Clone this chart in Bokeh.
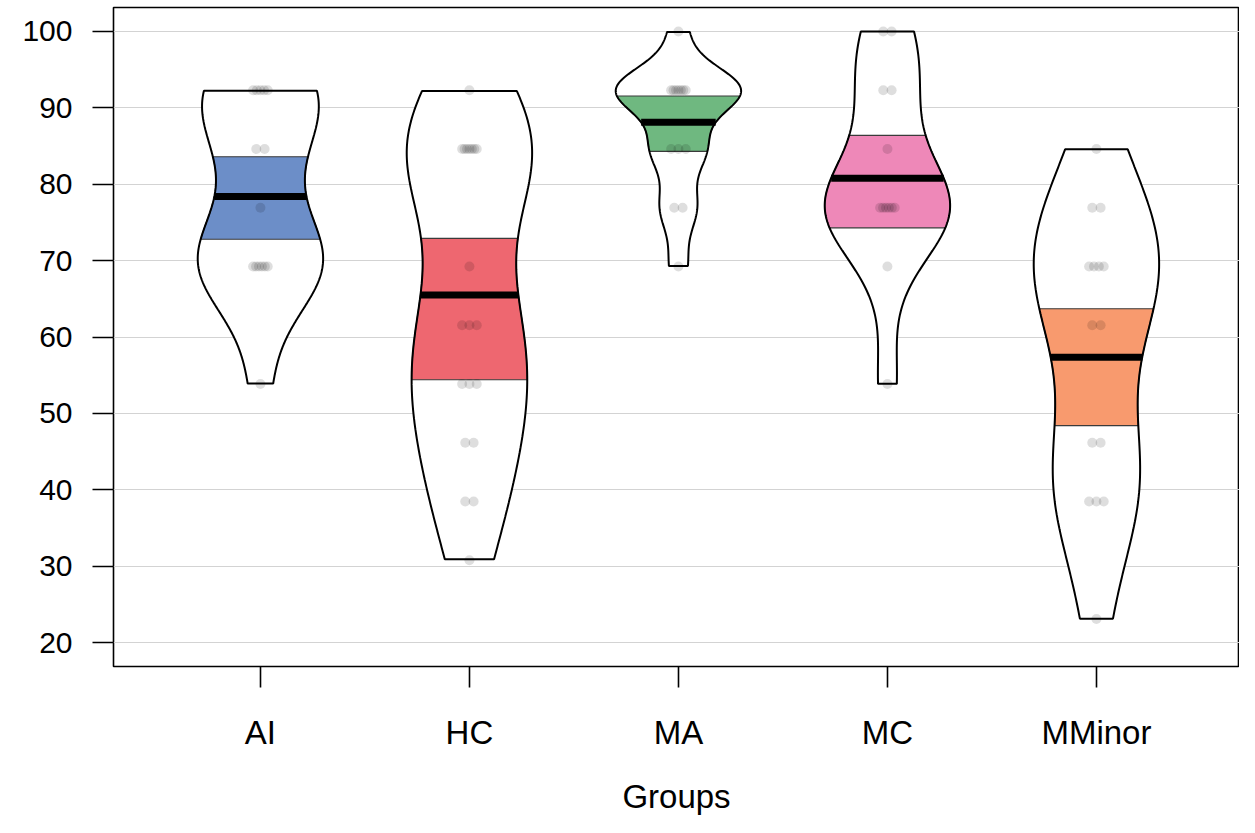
import numpy as np
from bokeh.plotting import figure
from bokeh.models import FixedTicker, Range1d
from bokeh.embed import file_html
from bokeh.resources import INLINE

# ---------------- data ----------------
groups = ["AI", "HC", "MA", "MC", "MMinor"]

ai_scores = [92.31, 92.31, 92.31, 92.31, 92.31, 84.62, 84.62, 76.92,
             69.23, 69.23, 69.23, 69.23, 69.23, 69.23, 53.85]
hc_scores = [92.31, 84.62, 84.62, 84.62, 84.62, 84.62, 84.62, 84.62,
             69.23, 61.54, 61.54, 61.54, 53.85, 53.85, 53.85,
             46.15, 46.15, 38.46, 38.46, 30.77]
ma_scores = [100.0, 92.31, 92.31, 92.31, 92.31, 92.31, 92.31, 92.31,
             84.62, 84.62, 84.62, 76.92, 76.92, 69.23]
mc_scores = [100.0, 100.0, 92.31, 92.31, 84.62,
             76.92, 76.92, 76.92, 76.92, 76.92, 76.92, 69.23, 53.85]
mminor_scores = [84.62, 76.92, 76.92, 69.23, 69.23, 69.23, 69.23,
                 61.54, 61.54, 46.15, 46.15, 38.46, 38.46, 38.46, 23.08]

group_means = [78.4, 65.5, 88.1, 80.8, 57.35]
hdi_lower = [72.8, 54.4, 84.3, 74.3, 48.4]
hdi_upper = [83.6, 72.9, 91.55, 86.4, 63.7]
band_colors = ["#6C8EC8", "#EE6770", "#6FB880", "#EE88B8", "#F89A6E"]

y_ticks = [20, 30, 40, 50, 60, 70, 80, 90, 100]

all_scores = [ai_scores, hc_scores, ma_scores, mc_scores, mminor_scores]

FONT = "Liberation Sans"
BEAN_HALF_WIDTH = 0.3


def bean_density(values):
    x = np.asarray(values, dtype=float)
    n = len(x)
    q75, q25 = np.percentile(x, [75, 25])
    lo = min(np.std(x, ddof=1), (q75 - q25) / 1.34)
    if lo <= 0:
        lo = np.std(x, ddof=1)
    bw = 0.9 * lo * n ** (-0.2)
    grid = np.linspace(x.min() - 3 * bw, x.max() + 3 * bw, 512)
    d = np.exp(-0.5 * ((grid[:, None] - x[None, :]) / bw) ** 2).sum(axis=1)
    d = d / d.max() * BEAN_HALF_WIDTH
    keep = (grid >= x.min()) & (grid <= x.max())
    return grid[keep], d[keep]


p = figure(width=1239, height=817, output_backend="svg", toolbar_location=None,
           x_range=Range1d(0.297, 0.297 + 1126 / 209.0),
           y_range=Range1d(16.86, 103.14),
           min_border_left=113, min_border_right=0, min_border_top=7,
           min_border_bottom=150)

p.background_fill_color = "white"
p.border_fill_color = "white"
p.outline_line_color = "black"
p.outline_line_width = 1.6
p.outline_line_alpha = 1.0

p.xgrid.visible = False
p.ygrid.ticker = FixedTicker(ticks=y_ticks)
p.ygrid.grid_line_color = "#D3D3D3"
p.ygrid.grid_line_width = 1.2

# axes
p.yaxis.ticker = FixedTicker(ticks=y_ticks)
p.xaxis.ticker = FixedTicker(ticks=[1, 2, 3, 4, 5])
p.xaxis.major_label_overrides = {i + 1: g for i, g in enumerate(groups)}
for ax in (p.xaxis, p.yaxis):
    ax.axis_line_color = None
    ax.major_tick_in = 0
    ax.major_tick_out = 21
    ax.minor_tick_line_color = None
    ax.major_tick_line_color = "black"
    ax.major_tick_line_width = 1.6
    ax.major_label_text_font = FONT
    ax.major_label_text_color = "black"
p.yaxis.major_label_text_font_size = "30px"
p.yaxis.major_label_standoff = 20
p.xaxis.major_label_text_font_size = "33px"
p.xaxis.major_label_standoff = 26
p.xaxis.axis_label = "Groups"
p.xaxis.axis_label_text_font = FONT
p.xaxis.axis_label_text_font_size = "33px"
p.xaxis.axis_label_text_font_style = "normal"
p.xaxis.axis_label_text_color = "black"
p.xaxis.axis_label_standoff = 24

for i, vals in enumerate(all_scores):
    cx = i + 1
    g, d = bean_density(vals)
    bx = np.concatenate([cx - d, (cx + d)[::-1]])
    by = np.concatenate([g, g[::-1]])
    # bean background
    p.patch(bx, by, fill_color="white", line_color=None)
    # inference band following the bean outline
    lo, hi = hdi_lower[i], hdi_upper[i]
    mask = (g > lo) & (g < hi)
    gb = np.concatenate([[lo], g[mask], [hi]])
    db = np.interp(gb, g, d)
    p.patch(np.concatenate([cx - db, (cx + db)[::-1]]),
            np.concatenate([gb, gb[::-1]]),
            fill_color=band_colors[i], line_color="#3A3A3A", line_width=1.2)
    # points, spread deterministically around the centre
    arr = np.asarray(vals)
    px, py = [], []
    for v in np.unique(arr):
        k = int((arr == v).sum())
        step = min(0.04, 0.07 / (k - 1)) if k > 1 else 0.0
        for j in range(k):
            px.append(cx + (j - (k - 1) / 2) * step)
            py.append(v)
    p.scatter(px, py, size=10, fill_color="black", fill_alpha=0.13,
              line_color=None)
    # bean outline
    p.patch(bx, by, fill_color=None, line_color="black", line_width=2)
    # mean line
    half = float(np.interp(group_means[i], g, d))
    p.segment(x0=[cx - half], y0=[group_means[i]], x1=[cx + half],
              y1=[group_means[i]], line_color="black", line_width=7)

open("out.html", "w").write(file_html(p, INLINE))
